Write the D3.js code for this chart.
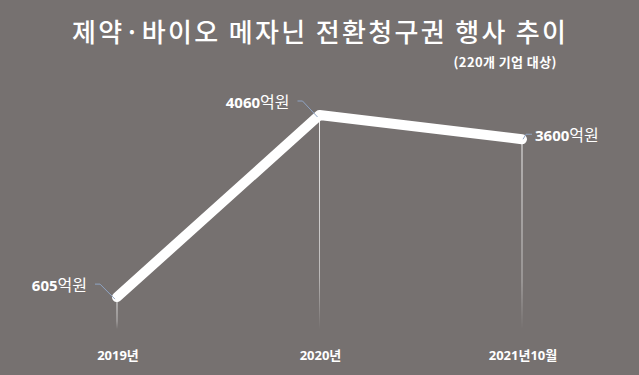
<!DOCTYPE html>
<html><head><meta charset="utf-8">
<script src="https://d3js.org/d3.v7.min.js"></script>
<style>
html,body{margin:0;padding:0;background:#767170;}
svg{display:block;}
</style></head>
<body>
<script>
const categories = ["2019년", "2020년", "2021년10월"];
const values = [605, 4060, 3600];
const valueLabels = ["605", "4060", "3600"];
const unit = "억원";
const title = "제약·바이오 메자닌 전환청구권 행사 추이";
const subtitle = "(220개 기업 대상)";

const W = 639, H = 375;
const svg = d3.select("body").append("svg").attr("width", W).attr("height", H);
svg.append("rect").attr("width", W).attr("height", H).attr("fill", "#767170");

const x = d3.scalePoint().domain(categories).range([117, 522]);
const y = d3.scaleLinear().domain([0, 4060]).range([329, 115]);

const defs = svg.append("defs");
const grad = defs.append("linearGradient").attr("id", "drop").attr("x1", 0).attr("y1", 0).attr("x2", 0).attr("y2", 1);
grad.append("stop").attr("offset", "0%").attr("stop-color", "#ffffff").attr("stop-opacity", 0.9);
grad.append("stop").attr("offset", "75%").attr("stop-color", "#ffffff").attr("stop-opacity", 0.5);
grad.append("stop").attr("offset", "100%").attr("stop-color", "#ffffff").attr("stop-opacity", 0);

// drop lines
svg.selectAll("rect.drop").data(categories).enter().append("rect")
  .attr("class", "drop")
  .attr("x", d => x(d) - 0.5)
  .attr("y", (d, i) => y(values[i]))
  .attr("width", 1)
  .attr("height", (d, i) => y(0) - y(values[i]))
  .attr("fill", "url(#drop)");

// main line
const line = d3.line().x((d, i) => x(categories[i])).y(d => y(d));
svg.append("path").datum(values).attr("d", line)
  .attr("fill", "none").attr("stroke", "#ffffff").attr("stroke-width", 10)
  .attr("stroke-linecap", "round").attr("stroke-linejoin", "round");

// leader lines and labels
const labelPos = [
  {dy: -13, anchor: "end"},
  {dy: -14, anchor: "end"},
  {dy: -5, anchor: "start"}
];
values.forEach((v, i) => {
  const px = x(categories[i]), py = y(v);
  const p = labelPos[i];
  let pts, tx;
  if (p.anchor === "end") {
    pts = [[px - 22, py + p.dy], [px - 17, py + p.dy], [px - 2, py + 2]];
    tx = px - 30;
  } else {
    pts = [[px + 1, py], [px + 4, py + p.dy], [px + 10, py + p.dy]];
    tx = px + 13;
  }
  svg.append("path").attr("d", d3.line()(pts))
    .attr("fill", "none").attr("stroke", "#8fa4c4").attr("stroke-width", 1);
  const t = svg.append("text").attr("x", tx).attr("y", py + p.dy + 7)
    .attr("text-anchor", p.anchor).attr("fill", "#ffffff");
  t.append("tspan").text(valueLabels[i])
    .attr("font-family", "'Open Sans', 'Noto Sans', sans-serif").attr("font-weight", "bold").attr("font-size", 15);
  t.append("tspan").text(unit)
    .attr("font-family", "'Noto Sans CJK KR', sans-serif").attr("font-size", 16);
});

// category labels
svg.selectAll("text.cat").data(categories).enter().append("text")
  .attr("class", "cat")
  .attr("x", d => x(d) + 1).attr("y", 360)
  .attr("text-anchor", "middle").attr("fill", "#ffffff")
  .attr("font-family", "'Open Sans', 'Noto Sans CJK KR', sans-serif")
  .attr("font-weight", "bold").attr("font-size", 13)
  .text(d => d);

// title
svg.append("text").attr("x", 319).attr("y", 42).attr("text-anchor", "middle")
  .attr("fill", "#ffffff").attr("font-family", "'Noto Sans CJK KR', sans-serif")
  .attr("font-size", 26).attr("font-weight", 500)
  .attr("textLength", 494).attr("lengthAdjust", "spacing")
  .text(title);

svg.append("text").attr("x", 505).attr("y", 67).attr("text-anchor", "middle")
  .attr("fill", "#ffffff").attr("font-family", "'Noto Sans CJK KR', sans-serif")
  .attr("font-size", 13).attr("font-weight", "bold")
  .attr("textLength", 103).attr("lengthAdjust", "spacing")
  .text(subtitle);
</script>
</body></html>
